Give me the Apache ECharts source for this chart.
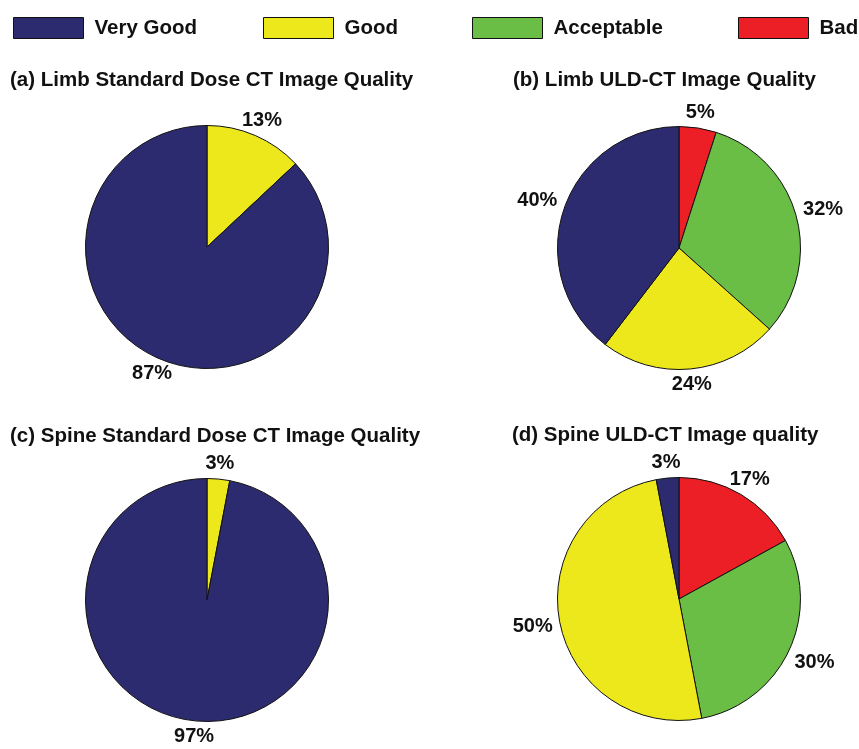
<!DOCTYPE html>
<html>
<head>
<meta charset="utf-8">
<script src="https://cdn.jsdelivr.net/npm/echarts@6/dist/echarts.min.js"></script>
<style>
html,body{margin:0;padding:0;background:#fff;}
#c{width:859px;height:749px;}
</style>
</head>
<body>
<div id="c"></div>
<script>
// ---- data ----
const categories = ['Very Good', 'Good', 'Acceptable', 'Bad'];
const categoryColors = ['#2C2B6F', '#EDE81C', '#6ABD45', '#EC1F26'];

const titleA = '(a) Limb Standard Dose CT Image Quality';
const titleB = '(b) Limb ULD-CT Image Quality';
const titleC = '(c) Spine Standard Dose CT Image Quality';
const titleD = '(d) Spine ULD-CT Image quality';

const limbStdNames = ['Good', 'Very Good'];
const limbStdValues = [13, 87];

const limbUldNames = ['Bad', 'Acceptable', 'Good', 'Very Good'];
const limbUldValues = [5, 32, 24, 40];

const spineStdNames = ['Good', 'Very Good'];
const spineStdValues = [3, 97];

const spineUldNames = ['Bad', 'Acceptable', 'Good', 'Very Good'];
const spineUldValues = [17, 30, 50, 3];

// ---- layout ----
const FONT = '"Liberation Sans", Arial, sans-serif';
const R = 121.5;
const GAP = 7;
const centers = [[207, 247], [679, 248], [207, 600], [679, 599]];
const titlePos = [[10, 70], [513, 70], [10, 426], [512, 425]];
const legendLeft = [13, 263, 472, 738];

const chart = echarts.init(document.getElementById('c'), null, {renderer: 'canvas'});

function colorOf(name) { return categoryColors[categories.indexOf(name)]; }

function makeData(names, values) {
  return names.map((n, i) => ({
    name: n, value: values[i],
    itemStyle: {color: colorOf(n)}
  }));
}

function outsideLayout(p) {
  const c = centers[p.seriesIndex];
  const lr = p.labelRect;
  const lx = lr.x + lr.width / 2, ly = lr.y + lr.height / 2;
  let ux = lx - c[0], uy = ly - c[1];
  const n = Math.hypot(ux, uy) || 1;
  ux /= n; uy /= n;
  const hw = lr.width / 2, hh = lr.height / 2 - 1;
  const ex = Math.abs(ux) > 1e-6 ? hw / Math.abs(ux) : 1e9;
  const ey = Math.abs(uy) > 1e-6 ? hh / Math.abs(uy) : 1e9;
  const d = R + GAP + Math.min(ex, ey);
  return {x: c[0] + ux * d, y: c[1] + uy * d, align: 'center', verticalAlign: 'middle'};
}

const pieSets = [
  [limbStdNames, limbStdValues],
  [limbUldNames, limbUldValues],
  [spineStdNames, spineStdValues],
  [spineUldNames, spineUldValues]
];

const series = pieSets.map((s, i) => ({
  type: 'pie',
  center: centers[i],
  radius: [0, R],
  startAngle: 90,
  clockwise: true,
  silent: true,
  avoidLabelOverlap: false,
  label: {
    show: true,
    position: 'inside',
    formatter: '{c}%',
    color: '#111',
    fontFamily: FONT,
    fontWeight: 'bold',
    fontSize: 20
  },
  labelLine: {show: false},
  labelLayout: outsideLayout,
  itemStyle: {borderColor: '#111', borderWidth: 1},
  emphasis: {disabled: true},
  data: makeData(s[0], s[1])
}));

const titleTexts = [titleA, titleB, titleC, titleD];
const title = titleTexts.map((t, i) => ({
  text: t,
  left: titlePos[i][0],
  top: titlePos[i][1],
  padding: 0,
  textStyle: {fontFamily: FONT, fontWeight: 'bold', fontSize: 20.5, color: '#111'}
}));

const legend = categories.map((c, i) => ({
  data: [c],
  left: legendLeft[i],
  top: 17,
  padding: 0,
  itemWidth: 70,
  itemHeight: 21,
  icon: 'rect',
  selectedMode: false,
  itemStyle: {borderColor: '#111', borderWidth: 1},
  textStyle: {fontFamily: FONT, fontWeight: 'bold', fontSize: 20.5, color: '#111', padding: [0, 0, 0, 6]}
}));

chart.setOption({
  animation: false,
  backgroundColor: '#fff',
  title: title,
  legend: legend,
  series: series
});
</script>
</body>
</html>
